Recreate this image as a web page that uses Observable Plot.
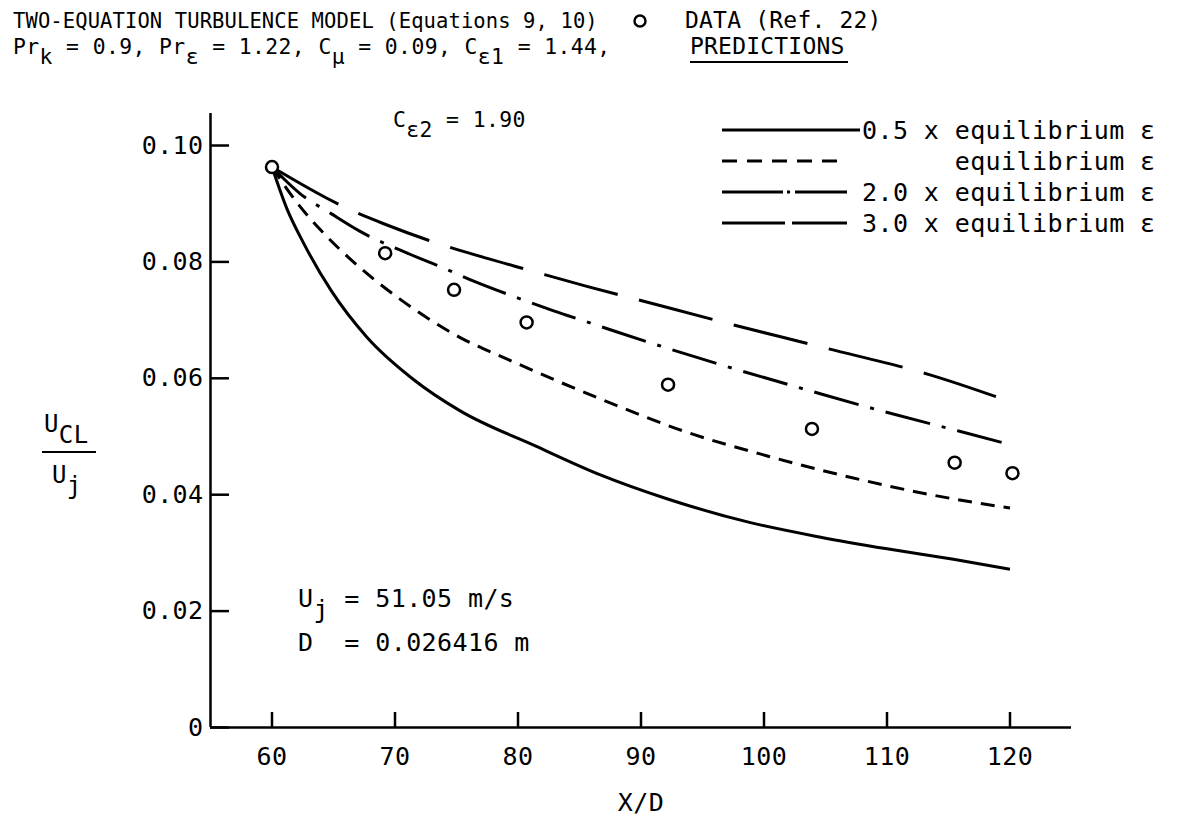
<!DOCTYPE html>
<html>
<head>
<meta charset="utf-8">
<script src="https://cdn.jsdelivr.net/npm/d3@7"></script>
<script src="https://cdn.jsdelivr.net/npm/@observablehq/plot@0.6"></script>
<style>
html,body{margin:0;padding:0;background:#fff;}
#chart{position:relative;width:1177px;height:818px;overflow:hidden;}
</style>
</head>
<body>
<div id="chart"></div>
<script>
// ---- axis ticks ----
const xTicks = [60, 70, 80, 90, 100, 110, 120];
const xTickLabels = ["60", "70", "80", "90", "100", "110", "120"];
const yTicks = [0, 0.02, 0.04, 0.06, 0.08, 0.10];
const yTickLabels = ["0", "0.02", "0.04", "0.06", "0.08", "0.10"];
const xDomain = [55, 125];
const yDomain = [0, 0.1055];

// ---- measured data (Ref. 22) ----
const dataXD = [60, 69.2, 74.8, 80.7, 92.2, 103.9, 115.5, 120.2];
const dataU  = [0.0963, 0.0815, 0.0752, 0.0696, 0.0589, 0.0513, 0.0455, 0.0437];

// ---- predictions ----
const halfXD = [60, 61.2, 62.6, 64.8, 67.7, 71.5, 75.3, 81.5, 86.7, 92.1, 98.9, 104.6, 110.0, 115.4, 120];
const halfU  = [0.0963, 0.0892, 0.0831, 0.0751, 0.0671, 0.0598, 0.0544, 0.0483, 0.0434, 0.0393, 0.0352, 0.0327, 0.0307, 0.0289, 0.0272];

const eqXD = [60, 62.1, 63.9, 66.1, 68.3, 70.4, 72.6, 75.3, 78.8, 82.9, 87.0, 93.5, 100.2, 107.0, 113.8, 120];
const eqU  = [0.0963, 0.0900, 0.0856, 0.0810, 0.0770, 0.0736, 0.0704, 0.0670, 0.0636, 0.0598, 0.0562, 0.0509, 0.0467, 0.0430, 0.0399, 0.0377];

const twoXD = [60, 62.3, 64.8, 67.2, 71.0, 74.0, 76.4, 79.6, 82.9, 85.6, 88.0, 92.1, 97.0, 104.0, 109.2, 115.9, 120];
const twoU  = [0.0963, 0.0917, 0.0883, 0.0852, 0.0815, 0.0789, 0.0767, 0.0741, 0.0716, 0.0697, 0.0680, 0.0652, 0.0620, 0.0577, 0.0546, 0.0509, 0.0486];

const threeXD = [60, 64.5, 66.1, 69.4, 72.6, 77.5, 80.7, 85.6, 89.4, 97.3, 104.8, 113.5, 120];
const threeU  = [0.0963, 0.0909, 0.0892, 0.0863, 0.0838, 0.0806, 0.0787, 0.0758, 0.0737, 0.0693, 0.0653, 0.0606, 0.0560];

const seriesNames = ["0.5 x equilibrium ε", "      equilibrium ε", "2.0 x equilibrium ε", "3.0 x equilibrium ε"];
const seriesDash = [null, "14,9", "46,12,4,12", "76,22"];
const legendDash = [null, "15,10", "61,4,3,5,60", "63,7"];

const rows = (xs, ys) => xs.map((x, i) => ({x, y: ys[i]}));
const FONT = "DejaVu Sans Mono, monospace";
const LW = 3;

const frameW = 1177 - 210 - 106;
const frameH = 818 - 113 - 91;

const lineMark = (xs, ys, dash) => Plot.line(rows(xs, ys), {
  x: "x", y: "y", stroke: "#000", strokeWidth: LW, curve: "monotone-x",
  strokeDasharray: dash || undefined, strokeLinecap: "butt"
});

const plot = Plot.plot({
  width: 1177, height: 818,
  marginLeft: 210, marginRight: 106, marginTop: 113, marginBottom: 91,
  x: {domain: xDomain},
  y: {domain: yDomain},
  style: {fontFamily: FONT, fontSize: "25px", color: "#000", background: "#fff", letterSpacing: "0.4px"},
  marks: [
    Plot.ruleX([xDomain[0]], {stroke: "#000", strokeWidth: 2.5}),
    Plot.ruleY([yDomain[0]], {stroke: "#000", strokeWidth: 2.5}),
    Plot.tickY(yTicks, {y: d => d, stroke: "#000", strokeWidth: 2.5, insetRight: frameW - 19}),
    Plot.tickX(xTicks, {x: d => d, stroke: "#000", strokeWidth: 2.5, insetTop: frameH - 15}),
    Plot.axisY({ticks: yTicks, tickSize: 0, tickPadding: 7, label: null,
      tickFormat: d => yTickLabels[yTicks.indexOf(d)]}),
    Plot.axisX({ticks: xTicks, tickSize: 0, tickPadding: 20, label: null,
      tickFormat: d => xTickLabels[xTicks.indexOf(d)]}),
    Plot.text(["X/D"], {frameAnchor: "bottom", dy: 75, lineAnchor: "middle", fill: "#000"}),
    lineMark(halfXD, halfU, seriesDash[0]),
    lineMark(eqXD, eqU, seriesDash[1]),
    lineMark(twoXD, twoU, seriesDash[2]),
    lineMark(threeXD, threeU, seriesDash[3]),
    Plot.dot(rows(dataXD, dataU), {x: "x", y: "y", r: 6, stroke: "#000", strokeWidth: 2.5, fill: "#fff"})
  ]
});
document.getElementById("chart").appendChild(plot);

// ---- annotations, header and legend drawn into the same SVG ----
const svg = d3.select(plot);
const g = svg.append("g").attr("font-family", FONT).attr("fill", "#000")
  .attr("text-anchor", "start");

// parts: array of strings or [string] for a lowered (subscript) run
function label(parts, x, y, size, ls = 0.4) {
  const t = g.append("text").attr("x", x).attr("y", y)
    .attr("font-size", size).attr("letter-spacing", ls + "px")
    .attr("text-anchor", "start")
    .attr("xml:space", "preserve").style("white-space", "pre");
  let down = false;
  const shift = Math.round(size * 0.45);
  parts.forEach(p => {
    const isSub = Array.isArray(p);
    const s = isSub ? p[0] : p;
    const ts = t.append("tspan").text(s);
    if (isSub && !down) { ts.attr("dy", shift); down = true; }
    else if (!isSub && down) { ts.attr("dy", -shift); down = false; }
  });
  return t;
}

// header
label(["TWO-EQUATION TURBULENCE MODEL (Equations 9, 10)"], 13, 28, 20.5, 0.1);
g.append("circle").attr("cx", 640).attr("cy", 21).attr("r", 5.5)
  .attr("fill", "none").attr("stroke", "#000").attr("stroke-width", 2.5);
label(["DATA (Ref. 22)"], 685, 28, 23, 0.2);
label(["Pr", ["k"], " = 0.9, Pr", ["ε"], " = 1.22, C", ["μ"], " = 0.09, C", ["ε1"], " = 1.44,"], 13, 54, 21.4, 0.4);
label(["C", ["ε2"], " = 1.90"], 393, 127, 21.4, 0.4);
label(["PREDICTIONS"], 690, 54, 23, 0.2);
g.append("line").attr("x1", 690).attr("x2", 848).attr("y1", 62).attr("y2", 62)
  .attr("stroke", "#000").attr("stroke-width", 2);

// legend
const legY = [130, 161, 192, 223];
seriesNames.forEach((name, i) => {
  const ln = g.append("line").attr("x1", 722).attr("x2", i === 0 ? 860 : 847)
    .attr("y1", legY[i]).attr("y2", legY[i])
    .attr("stroke", "#000").attr("stroke-width", LW);
  if (legendDash[i]) ln.attr("stroke-dasharray", legendDash[i]);
  label([name], 862, legY[i] + 9, 25, 0.4);
});

// jet conditions
label(["U", ["j"], " = 51.05 m/s"], 298, 607, 25, 0.4);
label(["D  = 0.026416 m"], 298, 651, 25, 0.4);

// y-axis label U_CL / U_j
label(["U", ["CL"]], 44, 432, 24, 0.4);
g.append("line").attr("x1", 42).attr("x2", 96).attr("y1", 452).attr("y2", 452)
  .attr("stroke", "#000").attr("stroke-width", 2);
label(["U", ["j"]], 52, 483, 24, 0.4);
</script>
</body>
